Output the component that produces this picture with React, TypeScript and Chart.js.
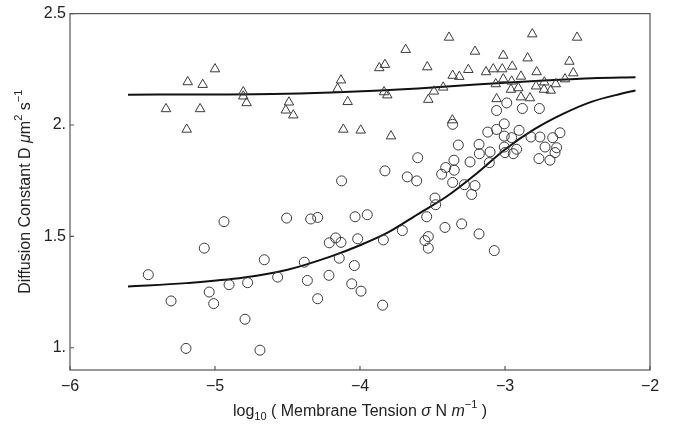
import React, { useEffect, useRef } from "react";
import { Chart, registerables } from "chart.js";

Chart.register(...registerables);

// ---- data ----
const circleX = [
  -4.938, -5.074, -4.66, -5.46, -4.568, -4.903, -4.775, -5.04, -5.303, -5.009, -4.793, -5.2, -4.69,
  -4.506, -4.34, -4.292, -4.034, -3.95, -4.168, -4.212, -4.131, -4.016, -4.143, -4.384, -4.039, -4.363,
  -4.214, -4.057, -3.993, -4.292, -3.844, -3.708, -3.839, -3.483, -3.478, -3.54, -3.414, -3.529, -3.552,
  -3.529, -4.127, -3.828, -3.674, -3.609, -3.602, -3.409, -3.437, -3.35, -3.352, -3.361, -3.322, -3.361,
  -3.28, -3.207, -3.23, -3.299, -3.179, -3.074, -3.058, -2.988, -2.88, -2.763, -3.005, -3.058, -3.119,
  -2.903, -3.005, -2.954, -2.821, -2.759, -2.671, -2.621, -3.179, -3.005, -2.92, -2.724, -2.644, -3.177,
  -3.103, -3.0, -2.943, -2.655, -3.241, -3.108, -2.766, -2.69,
];
const circleY = [
  1.566, 1.447, 1.395, 1.328, 1.317, 1.283, 1.292, 1.25, 1.21, 1.198, 1.128, 0.997, 0.989,
  1.582, 1.578, 1.585, 1.588, 1.597, 1.493, 1.471, 1.473, 1.489, 1.402, 1.384, 1.369, 1.302,
  1.325, 1.287, 1.254, 1.22, 1.191, 1.526, 1.484, 1.672, 1.642, 1.588, 1.54, 1.499, 1.481,
  1.447, 1.749, 1.794, 1.767, 1.749, 1.853, 1.809, 1.779, 1.797, 1.842, 1.742, 1.91, 2.003,
  1.732, 1.728, 1.688, 1.556, 1.511, 1.436, 2.065, 2.099, 2.074, 2.074, 2.005, 1.98, 1.968,
  1.976, 1.95, 1.943, 1.946, 1.946, 1.943, 1.965, 1.913, 1.901, 1.891, 1.901, 1.898, 1.871,
  1.879, 1.876, 1.871, 1.876, 1.834, 1.831, 1.849, 1.842,
];

const triangleX = [
  -5.0, -5.188, -5.085, -4.805, -4.805, -4.782, -5.338, -5.103, -5.195,
  -3.386, -3.685, -3.828, -3.867, -3.536, -3.361, -3.315, -3.253, -4.131, -4.154, -4.49, -4.512,
  -4.46, -4.085, -3.834, -3.812, -3.49, -3.426, -3.529, -4.115, -3.995, -3.786, -3.363,
  -2.812, -2.503, -3.207, -3.012, -2.844, -2.556, -3.131, -3.081, -3.019, -2.95, -2.89, -2.782,
  -2.529, -2.586, -3.012, -2.954, -3.064, -2.959, -2.908, -2.786, -2.729, -2.731, -2.685, -2.65,
  -3.058, -2.89, -2.828,
];
const triangleY = [
  2.251, 2.193, 2.181, 2.148, 2.129, 2.099, 2.072, 2.072, 1.98,
  2.393, 2.338, 2.271, 2.256, 2.26, 2.222, 2.217, 2.248, 2.201, 2.163, 2.102, 2.066,
  2.044, 2.104, 2.148, 2.134, 2.151, 2.169, 2.114, 1.98, 1.976, 1.95, 2.022,
  2.408, 2.393, 2.33, 2.312, 2.3, 2.285, 2.238, 2.251, 2.251, 2.263, 2.218, 2.238,
  2.233, 2.206, 2.206, 2.196, 2.184, 2.159, 2.166, 2.174, 2.192, 2.159, 2.155, 2.184,
  2.117, 2.125, 2.121,
];

const lowFitX = [-5.6, -5.2, -4.8, -4.5, -4.2, -4.0, -3.8, -3.6, -3.4, -3.2, -3.0, -2.8, -2.6, -2.4, -2.2, -2.1];
const lowFitY = [1.275, 1.29, 1.315, 1.35, 1.41, 1.46, 1.52, 1.6, 1.68, 1.78, 1.89, 1.98, 2.05, 2.105, 2.14, 2.155];

const highFitX = [-5.6, -5.0, -4.6, -4.2, -3.9, -3.6, -3.3, -3.0, -2.7, -2.4, -2.1];
const highFitY = [2.136, 2.137, 2.139, 2.146, 2.154, 2.164, 2.177, 2.19, 2.201, 2.21, 2.214];

const xTicks = [-6, -5, -4, -3, -2];
const xTickLabels = ["\u22126", "\u22125", "\u22124", "\u22123", "\u22122"];
const yTicks = [1, 1.5, 2, 2.5];
const yTickLabels = ["1.", "1.5", "2.", "2.5"];

type Seg = { t: string; it?: boolean; sub?: boolean; sup?: boolean };
const xTitle: Seg[] = [
  { t: "log" },
  { t: "10", sub: true },
  { t: " ( Membrane Tension " },
  { t: "\u03c3", it: true },
  { t: " N " },
  { t: "m", it: true },
  { t: "\u22121", sup: true },
  { t: " )" },
];
const yTitle: Seg[] = [
  { t: "Diffusion Constant D " },
  { t: "\u03bc", it: true },
  { t: "m" },
  { t: "2", sup: true },
  { t: " s" },
  { t: "\u22121", sup: true },
];

const FONT = "'Liberation Sans', Arial, Helvetica, sans-serif";
const FS = 16;

function segFont(s: Seg) {
  const size = s.sub || s.sup ? Math.round(FS * 0.7) : FS;
  return `${s.it ? "italic " : ""}${size}px ${FONT}`;
}

function drawRich(ctx: CanvasRenderingContext2D, segs: Seg[], cx: number, cy: number) {
  let total = 0;
  const widths = segs.map((s) => {
    ctx.font = segFont(s);
    const w = ctx.measureText(s.t).width;
    total += w;
    return w;
  });
  let x = cx - total / 2;
  ctx.textBaseline = "alphabetic";
  ctx.textAlign = "left";
  const base = cy + FS * 0.35;
  segs.forEach((s, i) => {
    ctx.font = segFont(s);
    let y = base;
    if (s.sub) y += FS * 0.25;
    if (s.sup) y -= FS * 0.45;
    ctx.fillText(s.t, x, y);
    x += widths[i];
  });
}

const framePlugin = {
  id: "framePlugin",
  afterDraw(chart: any) {
    const { ctx, chartArea, scales } = chart;
    const { left, right, top, bottom } = chartArea;
    ctx.save();
    ctx.strokeStyle = "#555";
    ctx.lineWidth = 1.2;
    ctx.strokeRect(left, top, right - left, bottom - top);
    ctx.beginPath();
    xTicks.forEach((v) => {
      const px = scales.x.getPixelForValue(v);
      ctx.moveTo(px, bottom);
      ctx.lineTo(px, bottom - 4);
    });
    yTicks.forEach((v) => {
      const py = scales.y.getPixelForValue(v);
      ctx.moveTo(left, py);
      ctx.lineTo(left + 4, py);
    });
    ctx.stroke();

    ctx.fillStyle = "#222";
    drawRich(ctx, xTitle, (left + right) / 2, 410);
    ctx.translate(24, (top + bottom) / 2);
    ctx.rotate(-Math.PI / 2);
    drawRich(ctx, yTitle, 0, 0);
    ctx.restore();
  },
};

export default function App() {
  const ref = useRef<HTMLCanvasElement | null>(null);
  useEffect(() => {
    if (!ref.current) return;
    const chart = new Chart(ref.current, {
      type: "scatter",
      data: {
        datasets: [
          {
            data: circleX.map((x, i) => ({ x, y: circleY[i] })),
            pointStyle: "circle",
            pointRadius: 5,
            backgroundColor: "rgba(0,0,0,0)",
            borderColor: "#3a3a3a",
            borderWidth: 1,
          },
          {
            data: triangleX.map((x, i) => ({ x, y: triangleY[i] })),
            pointStyle: "triangle",
            pointRadius: 5.5,
            backgroundColor: "rgba(0,0,0,0)",
            borderColor: "#3a3a3a",
            borderWidth: 1,
          },
          {
            data: lowFitX.map((x, i) => ({ x, y: lowFitY[i] })),
            showLine: true,
            pointRadius: 0,
            borderColor: "#111",
            borderWidth: 2,
            cubicInterpolationMode: "monotone",
          },
          {
            data: highFitX.map((x, i) => ({ x, y: highFitY[i] })),
            showLine: true,
            pointRadius: 0,
            borderColor: "#111",
            borderWidth: 2,
            cubicInterpolationMode: "monotone",
          },
        ],
      },
      options: {
        responsive: false,
        animation: false,
        events: [],
        layout: { padding: { top: 12, right: 26, left: 0, bottom: 0 } },
        plugins: { legend: { display: false }, tooltip: { enabled: false } },
        scales: {
          x: {
            type: "linear",
            min: -6,
            max: -2,
            grid: { display: false, drawTicks: false },
            border: { display: false },
            afterBuildTicks: (s: any) => {
              s.ticks = xTicks.map((v) => ({ value: v }));
            },
            afterFit: (s: any) => {
              s.height = 57;
            },
            ticks: {
              padding: 7,
              color: "#222",
              font: { family: FONT, size: FS },
              maxRotation: 0,
              callback: (_v: any, i: number) => xTickLabels[i],
            },
          },
          y: {
            type: "linear",
            min: 0.9,
            max: 2.5,
            grid: { display: false, drawTicks: false },
            border: { display: false },
            afterBuildTicks: (s: any) => {
              s.ticks = yTicks.map((v) => ({ value: v }));
            },
            afterFit: (s: any) => {
              s.width = 70;
            },
            ticks: {
              padding: 4,
              color: "#222",
              font: { family: FONT, size: FS },
              callback: (_v: any, i: number) => yTickLabels[i],
            },
          },
        },
      },
      plugins: [framePlugin],
    } as any);
    return () => chart.destroy();
  }, []);
  return (
    <div style={{ position: "fixed", left: 0, top: 0, width: 676, height: 427, background: "#fff" }}>
      <canvas ref={ref} width={676} height={427} style={{ display: "block", width: 676, height: 427 }} />
    </div>
  );
}
